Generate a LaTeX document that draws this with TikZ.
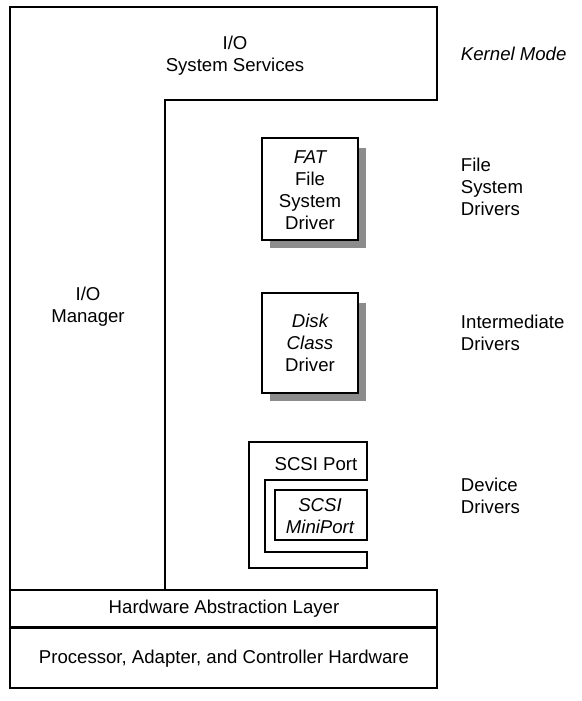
\documentclass[tikz,border=0pt]{standalone}
\usepackage{fontspec}
\setmainfont{Liberation Sans}
\usetikzlibrary{patterns}

\begin{document}
\begin{tikzpicture}[x=1pt,y=-1pt,line width=1.3pt,
  lbl/.style={font=\fontsize{18.6}{22}\selectfont,align=center},
  side/.style={font=\fontsize{18.6}{22}\selectfont,align=left,anchor=west},
  shade/.style={draw=none,fill=black!45}]
\useasboundingbox (0,0) rectangle (581,701);
% I/O manager outline
\draw (10,590) -- (10,7) -- (437,7) -- (437,100) -- (165,100) -- (165,590);
\node[lbl] (svc) at (235,56) {I/O\\System Services};
\node[lbl] (mgr) at (88,307) {I/O\\Manager};
\node[side] (kmode) at (457,54) {\itshape Kernel Mode};

% file system driver
\fill[shade] (358,148) rectangle (366,248);
\fill[shade] (270,240) rectangle (366,248);
\draw[fill=white] (262,138) rectangle (358,240);
\node[lbl] (fat) at (310,190) {\itshape FAT\\File\\System\\Driver};
\node[side] (fsd) at (457,187) {File\\System\\Drivers};

% intermediate driver
\fill[shade] (358,303) rectangle (366,401);
\fill[shade] (270,393) rectangle (366,401);
\draw[fill=white] (262,293) rectangle (358,393);
\node[lbl] (disk) at (310,343) {\itshape Disk\\\itshape Class\\Driver};
\node[side] (imd) at (457,333) {Intermediate\\Drivers};

% device drivers
\draw (249,442) -- (367,442) -- (367,480) -- (265,480) -- (265,552) -- (367,552)
  -- (367,568) -- (249,568) -- cycle;
\node[lbl] (port) at (316,464) {SCSI Port};
\draw (275,490) rectangle (367,540);
\node[lbl] (mini) at (320,516) {\itshape SCSI\\\itshape MiniPort};
\node[side] (dd) at (457,496) {Device\\Drivers};

% HAL and hardware
\draw (10,590) rectangle (437,627);
\node[lbl] (hal) at (224,609) {Hardware Abstraction Layer};
\draw (10,628) rectangle (437,688);
\node[lbl] (hw) at (224,659) {Processor, Adapter, and Controller Hardware};
\end{tikzpicture}
\end{document}
